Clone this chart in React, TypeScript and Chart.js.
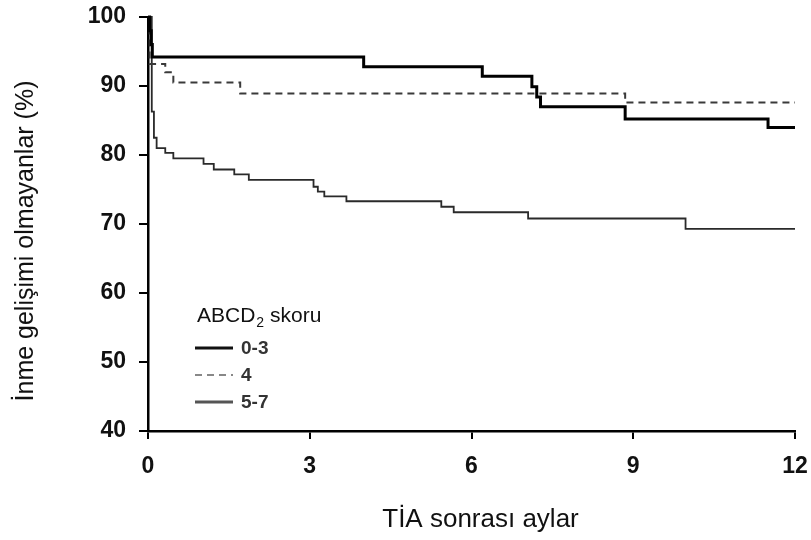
import React, { useEffect, useRef } from "react";
import { Chart, registerables } from "chart.js";

Chart.register(...registerables);

// ---- Data ----
const xTickValues = [0, 3, 6, 9, 12];
const yTickValues = [40, 50, 60, 70, 80, 90, 100];

const seriesLabels = ["0-3", "4", "5-7"];

const months03 = [0, 0.03, 0.06, 0.08, 4.0, 6.2, 7.12, 7.21, 7.28, 8.85, 11.5, 12];
const surv03 = [100, 98, 96, 94.2, 92.8, 91.4, 89.9, 88.4, 87.0, 85.2, 84.0, 84.0];

const months4 = [0, 0.03, 0.32, 0.47, 1.71, 8.85, 12];
const surv4 = [100, 93.2, 92.0, 90.5, 88.9, 87.6, 87.6];

const months57 = [0, 0.07, 0.11, 0.16, 0.32, 0.47, 1.03, 1.22, 1.6, 1.87, 3.07, 3.15, 3.27, 3.68, 5.44, 5.67, 7.05, 9.97, 12];
const surv57 = [100, 86.3, 82.5, 81.0, 80.3, 79.5, 78.7, 77.9, 77.2, 76.4, 75.4, 74.7, 74.0, 73.3, 72.5, 71.7, 70.8, 69.3, 69.3];

const xTitle = "TİA sonrası aylar";
const yTitle = "İnme gelişimi olmayanlar (%)";
const legendTitleMain = "ABCD";
const legendTitleSub = "2";
const legendTitleRest = " skoru";

const FONT = '"Liberation Sans", Arial, Helvetica, sans-serif';

const toPoints = (xs: number[], ys: number[]) => xs.map((x, i) => ({ x, y: ys[i] }));

const overlayPlugin = {
  id: "overlayText",
  afterDraw(chart: any) {
    const { ctx, chartArea } = chart;
    ctx.save();
    ctx.fillStyle = "#111";
    // X axis title
    ctx.font = `26px ${FONT}`;
    ctx.textAlign = "center";
    ctx.textBaseline = "alphabetic";
    ctx.fillText(xTitle, (chartArea.left + chartArea.right) / 2 + 9, 527);
    // Y axis title
    ctx.save();
    ctx.translate(33, (chartArea.top + chartArea.bottom) / 2 + 17);
    ctx.rotate(-Math.PI / 2);
    ctx.font = `25px ${FONT}`;
    ctx.fillText(yTitle, 0, 0);
    ctx.restore();

    // Legend
    const lx = chartArea.left + 49;
    ctx.textAlign = "left";
    ctx.font = `21px ${FONT}`;
    ctx.fillText(legendTitleMain, lx, 322);
    const w = ctx.measureText(legendTitleMain).width;
    ctx.font = `14px ${FONT}`;
    ctx.fillText(legendTitleSub, lx + w + 1, 327);
    const w2 = ctx.measureText(legendTitleSub).width;
    ctx.font = `21px ${FONT}`;
    ctx.fillText(legendTitleRest, lx + w + w2 + 1, 322);

    const rows = [348, 375, 402];
    chart.data.datasets.forEach((ds: any, i: number) => {
      const y = rows[i];
      ctx.save();
      ctx.strokeStyle = ds.legendColor;
      ctx.lineWidth = ds.legendWidth;
      ctx.setLineDash(ds.borderDash || []);
      ctx.beginPath();
      ctx.moveTo(lx - 2, y);
      ctx.lineTo(lx + 36, y);
      ctx.stroke();
      ctx.restore();
      ctx.fillStyle = "#333";
      ctx.font = `bold 19px ${FONT}`;
      ctx.textBaseline = "middle";
      ctx.fillText(ds.label, lx + 44, y + 1);
    });
    ctx.restore();
  },
};

export default function App() {
  const canvasRef = useRef<HTMLCanvasElement | null>(null);

  useEffect(() => {
    document.body.style.margin = "0";
    const canvas = canvasRef.current;
    if (!canvas) return;
    const chart = new Chart(canvas, {
      type: "line",
      data: {
        datasets: [
          {
            label: seriesLabels[0],
            data: toPoints(months03, surv03),
            borderColor: "#000",
            borderWidth: 3,
            stepped: "before",
            pointRadius: 0,
            fill: false,
            clip: false,
            legendColor: "#111",
            legendWidth: 3,
          } as any,
          {
            label: seriesLabels[1],
            data: toPoints(months4, surv4),
            borderColor: "#3a3a3a",
            borderWidth: 2,
            borderDash: [7, 5],
            stepped: "before",
            pointRadius: 0,
            fill: false,
            clip: false,
            legendColor: "#888",
            legendWidth: 2,
          } as any,
          {
            label: seriesLabels[2],
            data: toPoints(months57, surv57),
            borderColor: "#2a2a2a",
            borderWidth: 1.8,
            stepped: "before",
            pointRadius: 0,
            fill: false,
            clip: false,
            legendColor: "#555",
            legendWidth: 3,
          } as any,
        ],
      },
      options: {
        animation: false,
        responsive: false,
        maintainAspectRatio: false,
        layout: { padding: { top: 17, right: 16, left: 0, bottom: 0 } },
        plugins: {
          legend: { display: false },
          tooltip: { enabled: false },
          title: { display: false },
        },
        scales: {
          x: {
            type: "linear",
            min: 0,
            max: 12,
            afterBuildTicks: (scale: any) => {
              scale.ticks = xTickValues.map((v) => ({ value: v }));
            },
            afterFit: (scale: any) => {
              scale.height = 109;
              scale.paddingLeft = 0;
              scale.paddingRight = 0;
            },
            grid: {
              display: true,
              drawOnChartArea: false,
              drawTicks: true,
              tickLength: 8,
              color: "#000",
              lineWidth: 2,
            },
            border: { display: true, color: "#000", width: 2.5 },
            ticks: {
              color: "#111",
              font: { family: FONT, size: 23, weight: "bold" },
              padding: 14,
              maxRotation: 0,
            },
          },
          y: {
            type: "linear",
            min: 40,
            max: 100,
            afterBuildTicks: (scale: any) => {
              scale.ticks = yTickValues.map((v) => ({ value: v }));
            },
            afterFit: (scale: any) => {
              scale.width = 148;
              scale.paddingTop = 0;
              scale.paddingBottom = 0;
            },
            grid: {
              display: true,
              drawOnChartArea: false,
              drawTicks: true,
              tickLength: 9,
              color: "#000",
              lineWidth: 2,
            },
            border: { display: true, color: "#000", width: 2.5 },
            ticks: {
              color: "#111",
              font: { family: FONT, size: 23, weight: "bold" },
              padding: 13,
            },
          },
        },
      },
      plugins: [overlayPlugin],
    });
    return () => chart.destroy();
  }, []);

  return (
    <div style={{ width: 811, height: 540, background: "#fff" }}>
      <canvas ref={canvasRef} width={811} height={540} />
    </div>
  );
}
